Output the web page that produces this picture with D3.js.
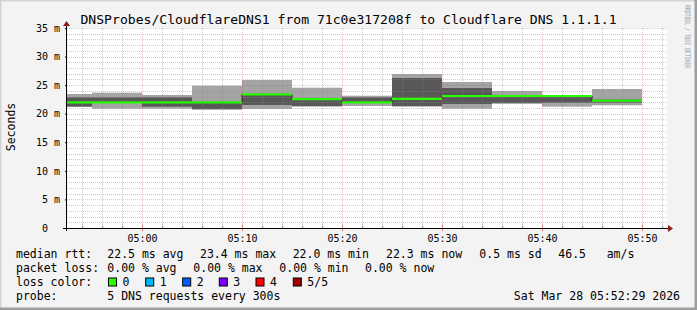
<!DOCTYPE html>
<html>
<head>
<meta charset="utf-8">
<script src="https://cdn.jsdelivr.net/npm/d3@7"></script>
<style>
    html, body { margin: 0; padding: 0; background: #f3f3f3; }
    svg { display: block; font-family: "DejaVu Sans Mono", monospace; }
    text { white-space: pre; }
</style>
</head>
<body>
<div id="chart"></div>
<script>

// sample end times, each sample covers the 5 minutes before it
const sampleEnds = ["04:55", "05:00", "05:05", "05:10", "05:15", "05:20",
                    "05:25", "05:30", "05:35", "05:40", "05:45", "05:50"];

// the five sorted dns replies of each sample, in ms
const ping1  = [21.20, 20.88, 20.88, 20.75, 20.83, 21.23, 21.35, 21.23, 20.88, 21.80, 21.23, 21.47];
const ping2  = [21.25, 21.95, 21.23, 20.77, 21.53, 21.35, 21.95, 21.35, 21.70, 21.82, 21.93, 21.93];
const median = [22.00, 22.00, 22.00, 22.00, 23.40, 22.55, 22.00, 22.60, 23.10, 23.10, 23.10, 22.30];
const ping4  = [22.87, 22.87, 22.87, 22.10, 23.45, 22.60, 22.87, 26.25, 24.50, 23.15, 23.15, 22.52];
const ping5  = [23.45, 23.68, 23.28, 24.90, 25.90, 24.55, 23.15, 26.95, 25.55, 23.98, 23.28, 24.33];

// axis ticks
const yTicks = [0, 5, 10, 15, 20, 25, 30, 35];
const xTickLabels = ["05:00", "05:10", "05:20", "05:30", "05:40", "05:50"];

// legend texts
const title = "DNSProbes/CloudflareDNS1 from 71c0e317208f to Cloudflare DNS 1.1.1.1";
const rttStats = ["22.5 ms avg", "23.4 ms max", "22.0 ms min", "22.3 ms now", "0.5 ms sd", "46.5", "am/s"];
const lossStats = ["0.00 % avg", "0.00 % max", "0.00 % min", "0.00 % now"];
const lossLabels = ["0", "1", "2", "3", "4", "5/5"];
const lossColors = ["#26ff00", "#00b8ff", "#0059ff", "#7e00ff", "#ff0000", "#a10000"];
const probeText = "5 DNS requests every 300s";
const stampText = "Sat Mar 28 05:52:29 2026";

const day = "2026-03-28T";
const parseTime = s => new Date(day + s + ":00Z");

// layout
const W = 697, H = 310;
const plot = { left: 67, top: 28, width: 600, height: 200 };
const rttX = [107.3, 200, 292.7, 386, 479.3, 558.3, 606.7];
const lossX = [107.3, 193.3, 279.3, 365];
const boxX = [108.5, 145.7, 182.7, 219.3, 256, 293.3];

const svg = d3.select("#chart")
    .append("svg")
    .attr("width", W)
    .attr("height", H);

// frame
svg.append("rect").attr("width", W).attr("height", H).attr("fill", "#f3f3f3");
svg.append("path").attr("d", `M0,${H} V0 H${W}`).attr("fill", "none").attr("stroke", "#d4d4d4").attr("stroke-width", 3);
svg.append("path").attr("d", `M${W - 1},0 V${H - 1} H0`).attr("fill", "none").attr("stroke", "#9e9e9e").attr("stroke-width", 3);

// scales
const x = d3.scaleUtc()
    .domain([new Date(day + "04:52:30Z"), new Date(day + "05:52:30Z")])
    .range([plot.left, plot.left + plot.width]);

const y = d3.scaleLinear()
    .domain([0, 35])
    .range([plot.top + plot.height, plot.top]);

// canvas
svg.append("rect")
    .attr("x", plot.left).attr("y", plot.top)
    .attr("width", plot.width).attr("height", plot.height)
    .attr("fill", "#ffffff");

svg.append("clipPath").attr("id", "clip")
    .append("rect")
    .attr("x", plot.left).attr("y", plot.top - 1)
    .attr("width", plot.width).attr("height", plot.height + 1);

const samples = sampleEnds.map((t, i) => ({
    end: parseTime(t),
    start: new Date(parseTime(t).getTime() - 300000),
    p1: ping1[i], p2: ping2[i], med: median[i], p4: ping4[i], p5: ping5[i]
}));

const g = svg.append("g").attr("clip-path", "url(#clip)");

// smoke, outer replies
g.selectAll("rect.outer")
    .data(samples)
    .join("rect")
    .attr("class", "outer")
    .attr("x", d => x(d.start))
    .attr("width", d => x(d.end) - x(d.start))
    .attr("y", d => y(d.p5))
    .attr("height", d => y(d.p1) - y(d.p5))
    .attr("fill", "#a4a4a4");

// smoke, inner replies
g.selectAll("rect.inner")
    .data(samples)
    .join("rect")
    .attr("class", "inner")
    .attr("x", d => x(d.start))
    .attr("width", d => x(d.end) - x(d.start))
    .attr("y", d => y(d.p4))
    .attr("height", d => y(d.p2) - y(d.p4))
    .attr("fill", "#585858");

// median step line
const stepPoints = samples.map(d => [d.start, d.med]);
stepPoints.push([samples[samples.length - 1].end, samples[samples.length - 1].med]);

g.append("path")
    .datum(stepPoints)
    .attr("fill", "none")
    .attr("stroke", "#202020")
    .attr("stroke-width", 1)
    .attr("d", d3.line()
        .curve(d3.curveStepAfter)
        .x(d => x(d[0]))
        .y(d => y(d[1])));

// median coloured by loss (all 0 here)
g.selectAll("line.med")
    .data(samples)
    .join("line")
    .attr("class", "med")
    .attr("x1", d => x(d.start))
    .attr("x2", d => x(d.end))
    .attr("y1", d => y(d.med))
    .attr("y2", d => y(d.med))
    .attr("stroke", lossColors[0])
    .attr("stroke-width", 2.2);

// grid, drawn over the data like rrdtool
const crisp = v => Math.round(v) + 0.5;
const grid = svg.append("g");
const minorY = d3.range(1, 36).filter(v => v % 5 !== 0);
const majorY = yTicks.filter(v => v > 0);
const minorX = d3.utcMinute.every(2).range(x.domain()[0], x.domain()[1]).filter(d => d.getUTCMinutes() % 10 !== 0);
const majorX = xTickLabels.map(parseTime);
const minorColor = "rgba(140,140,140,0.45)";
const majorColor = "rgba(200,70,70,0.32)";

grid.selectAll("line.hminor").data(minorY).join("line")
    .attr("x1", plot.left).attr("x2", plot.left + plot.width)
    .attr("y1", d => crisp(y(d))).attr("y2", d => crisp(y(d)))
    .attr("stroke", minorColor).attr("stroke-dasharray", "1,1");
grid.selectAll("line.vminor").data(minorX).join("line")
    .attr("y1", plot.top).attr("y2", plot.top + plot.height)
    .attr("x1", d => crisp(x(d))).attr("x2", d => crisp(x(d)))
    .attr("stroke", minorColor).attr("stroke-dasharray", "1,1");
grid.selectAll("line.hmajor").data(majorY).join("line")
    .attr("x1", plot.left).attr("x2", plot.left + plot.width)
    .attr("y1", d => crisp(y(d))).attr("y2", d => crisp(y(d)))
    .attr("stroke", majorColor).attr("stroke-dasharray", "1,1");
grid.selectAll("line.vmajor").data(majorX).join("line")
    .attr("y1", plot.top).attr("y2", plot.top + plot.height)
    .attr("x1", d => crisp(x(d))).attr("x2", d => crisp(x(d)))
    .attr("stroke", majorColor).attr("stroke-dasharray", "1,1");

// axes
const yAxis = svg.append("g")
    .attr("transform", `translate(${plot.left},0)`)
    .call(d3.axisLeft(y)
        .tickValues(yTicks)
        .tickSize(2)
        .tickPadding(5)
        .tickFormat(d => d === 0 ? "0  " : d + " m"));
yAxis.select(".domain").remove();
yAxis.selectAll("text").attr("font-size", 10).attr("font-family", "DejaVu Sans Mono").attr("fill", "#000");
yAxis.selectAll("line").attr("stroke", "#000");

const xAxis = svg.append("g")
    .attr("transform", `translate(0,${plot.top + plot.height})`)
    .call(d3.axisBottom(x)
        .tickValues(majorX)
        .tickSize(0)
        .tickPadding(7)
        .tickFormat((d, i) => xTickLabels[i]));
xAxis.select(".domain").remove();
xAxis.selectAll("text").attr("font-size", 10).attr("font-family", "DejaVu Sans Mono").attr("fill", "#000");

// small ticks on the time axis
svg.selectAll("line.xt").data(minorX).join("line")
    .attr("x1", d => crisp(x(d))).attr("x2", d => crisp(x(d)))
    .attr("y1", plot.top + plot.height - 2).attr("y2", plot.top + plot.height)
    .attr("stroke", "#8c8c8c");
svg.selectAll("line.xT").data(majorX).join("line")
    .attr("x1", d => crisp(x(d))).attr("x2", d => crisp(x(d)))
    .attr("y1", plot.top + plot.height - 3).attr("y2", plot.top + plot.height + 3)
    .attr("stroke", "#d08080");

// axis lines and arrows
const axisY = plot.top + plot.height + 0.5;
svg.append("line")
    .attr("x1", plot.left - 4).attr("x2", plot.left + plot.width + 1)
    .attr("y1", axisY).attr("y2", axisY)
    .attr("stroke", "#000");
svg.append("line")
    .attr("x1", plot.left - 0.5).attr("x2", plot.left - 0.5)
    .attr("y1", plot.top + plot.height + 3).attr("y2", plot.top - 2)
    .attr("stroke", "#000");
svg.append("path")
    .attr("d", `M${plot.left + plot.width + 1},${axisY - 3.5} L${plot.left + plot.width + 6},${axisY} L${plot.left + plot.width + 1},${axisY + 3.5} Z`)
    .attr("fill", "#8f1f1f");
svg.append("path")
    .attr("d", `M${plot.left - 4},${plot.top - 2} L${plot.left - 0.5},${plot.top - 7} L${plot.left + 3},${plot.top - 2} Z`)
    .attr("fill", "#8f1f1f");

// title and labels
svg.append("text")
    .attr("x", 348.5).attr("y", 23.5)
    .attr("text-anchor", "middle")
    .attr("font-size", 13.1)
    .text(title);

svg.append("text")
    .attr("transform", "translate(15,127) rotate(-90)")
    .attr("text-anchor", "middle")
    .attr("font-size", 11.5)
    .text("Seconds");

svg.append("text")
    .attr("transform", "translate(684.5,5) rotate(90)")
    .attr("font-size", 7.5)
    .attr("fill", "#a0a0a0")
    .attr("textLength", 63)
    .attr("lengthAdjust", "spacingAndGlyphs")
    .text("RRDTOOL / TOBI OETIKER");

// legend
const legend = svg.append("g").attr("font-size", 11.5).attr("fill", "#000");
const rows = [258, 272, 286, 300];

legend.append("text").attr("x", 16).attr("y", rows[0]).text("median rtt:");
legend.selectAll("text.rtt").data(rttStats).join("text")
    .attr("class", "rtt")
    .attr("x", (d, i) => rttX[i]).attr("y", rows[0])
    .text(d => d);

legend.append("text").attr("x", 16).attr("y", rows[1]).text("packet loss:");
legend.selectAll("text.loss").data(lossStats).join("text")
    .attr("class", "loss")
    .attr("x", (d, i) => lossX[i]).attr("y", rows[1])
    .text(d => d);

legend.append("text").attr("x", 16).attr("y", rows[2]).text("loss color:");
legend.selectAll("rect.box").data(lossColors).join("rect")
    .attr("class", "box")
    .attr("x", (d, i) => boxX[i]).attr("y", rows[2] - 8)
    .attr("width", 8).attr("height", 8)
    .attr("fill", d => d)
    .attr("stroke", "#000").attr("stroke-width", 1);
legend.selectAll("text.lc").data(lossLabels).join("text")
    .attr("class", "lc")
    .attr("x", (d, i) => boxX[i] + 14).attr("y", rows[2])
    .text(d => d);

legend.append("text").attr("x", 16).attr("y", rows[3]).text("probe:");
legend.append("text").attr("x", 107.3).attr("y", rows[3]).text(probeText);
legend.append("text").attr("x", 680).attr("y", rows[3]).attr("text-anchor", "end").text(stampText);

</script>
</body>
</html>
